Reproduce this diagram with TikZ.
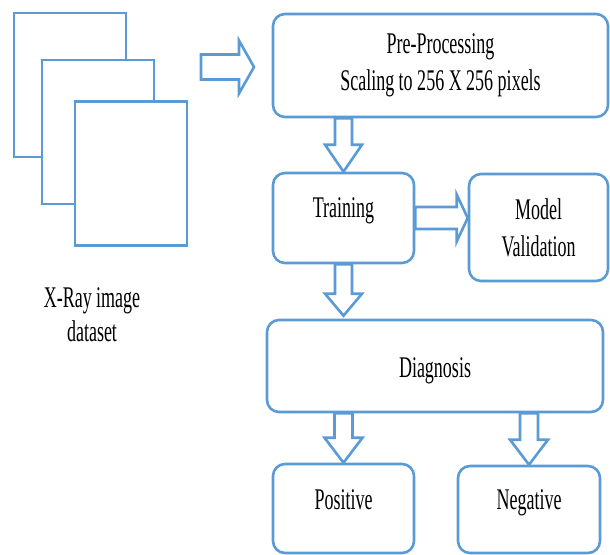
\documentclass[tikz,border=0pt]{standalone}
\usepackage{fontspec}
\setmainfont{Liberation Serif}[FakeStretch=0.6]
\usepackage{tikz}
\usetikzlibrary{positioning,calc}
\definecolor{boxblue}{RGB}{91,155,213}

% hollow block arrow: from, to, shaft half width, head half width, head length
\newcommand{\fatarrow}[5]{%
  \coordinate (fa-h) at ($(#2)!#5!(#1)$);
  \draw[fatline] ($(#1)!#3!90:(#2)$) -- ($(fa-h)!#3!90:(#2)$) -- ($(fa-h)!#4!90:(#2)$) -- (#2)
    -- ($(fa-h)!#4!-90:(#2)$) -- ($(fa-h)!#3!-90:(#2)$) -- ($(#1)!#3!-90:(#2)$) -- cycle;
}

\begin{document}
\begin{tikzpicture}[
    x=0.5pt, y=-0.5pt,
    line width=1.3pt,
    img/.style={rectangle, draw=boxblue, fill=white, minimum width=56pt, minimum height=72pt},
    stage/.style={rectangle, draw=boxblue, fill=white, rounded corners=6pt, align=center, inner sep=0pt, font=\fontsize{15}{18.5}\selectfont},
    fatline/.style={draw=boxblue, fill=white, line join=miter}
]
    \useasboundingbox (0,0) rectangle (610,554);

    % Image stack
    \node[img] (img1) at (70,85) {};
    \node[img] (img2) at (98,132) {};
    \node[img] (img3) at (131,173.5) {};
    \node[align=center, font=\fontsize{15}{17}\selectfont] (dataset) at (92,315) {X-Ray image\\dataset};

    % Stages
    \node[stage, minimum width=167.5pt, minimum height=51.5pt] (prep) at (440.5,65.5) {Pre-Processing\\Scaling to 256 X 256 pixels};
    \node[stage, minimum width=70.5pt, minimum height=45pt, text depth=10.3pt] (train) at (343.5,218) {Training};
    \node[stage, minimum width=69.5pt, minimum height=53.5pt] (valid) at (538.5,227.5) {Model\\Validation};
    \node[stage, minimum width=168pt, minimum height=46pt, text height=15pt] (diag) at (435,366) {Diagnosis};
    \node[stage, minimum width=70.5pt, minimum height=44.5pt, text depth=8.5pt] (pos) at (343.5,508.5) {Positive};
    \node[stage, minimum width=71pt, minimum height=43.5pt, text depth=10pt] (neg) at (529,509.5) {Negative};

    % Arrow ends
    \coordinate (a0) at (201,67);
    \coordinate (a1) at (254,67);
    \coordinate (p0) at (train.north |- prep.south);
    \coordinate (t1) at (train.east -| valid.west);
    \coordinate (d1) at ($(train.south |- diag.north)+(0,-3)$);
    \coordinate (q0) at (pos.north |- diag.south);
    \coordinate (n0) at (neg.north |- diag.south);

    % Arrows
    \fatarrow{a0}{a1}{6.25pt}{13.25pt}{7.5pt}
    \fatarrow{p0}{train.north}{4.25pt}{9.25pt}{13.5pt}
    \fatarrow{train.east}{t1}{5.5pt}{11.75pt}{5.5pt}
    \fatarrow{train.south}{d1}{4.25pt}{9.25pt}{11pt}
    \fatarrow{q0}{pos.north}{4.5pt}{9.5pt}{12.5pt}
    \fatarrow{n0}{neg.north}{4.5pt}{9.5pt}{12.5pt}
\end{tikzpicture}
\end{document}
